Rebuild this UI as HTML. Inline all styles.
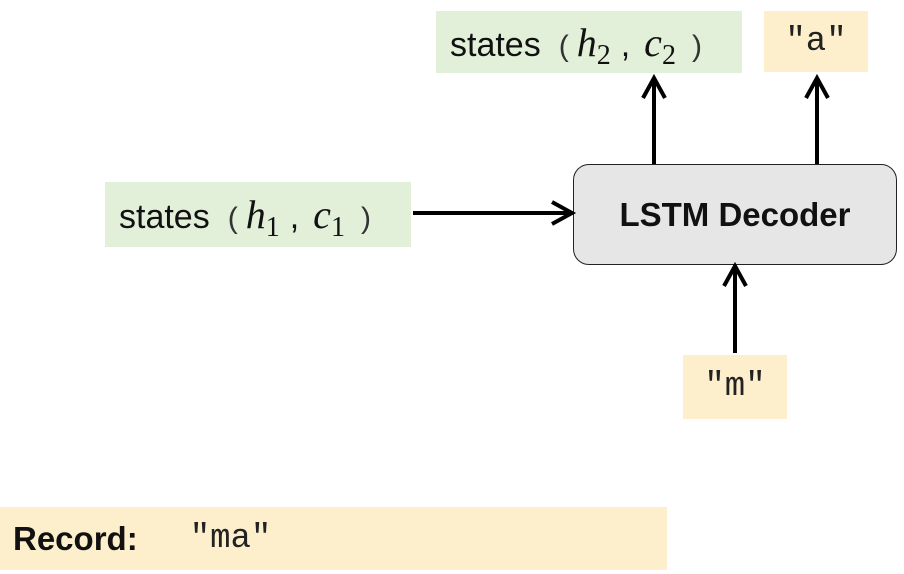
<!DOCTYPE html>
<html><head><meta charset="utf-8"><style>
html,body{margin:0;padding:0;background:#fff;width:904px;height:574px;overflow:hidden;position:relative;font-family:"Liberation Sans",sans-serif}
.b{position:absolute;display:flex;align-items:center;justify-content:center;white-space:nowrap;color:#111}
.g{background:#e2f0d9}
.y{background:#fdefcc}
.st{font-size:34px;justify-content:flex-start;padding-left:14px;box-sizing:border-box}
.m{font-family:"Liberation Serif",serif;font-style:italic;font-size:40px}
.sub{font-family:"Liberation Serif",serif;font-size:28px;position:relative;top:8px}
.p{font-size:30px;color:#333}
.mono{font-family:"Liberation Mono",monospace;font-size:34px;color:#222}
</style></head><body>
<div class="b g st" style="left:436px;top:11px;width:306px;height:62px"><span>states<span class="p" style="margin:0 8px 0 18px">(</span><span class="m">h</span><span class="sub">2</span><span style="margin:0 14px 0 10px">,</span><span class="m">c</span><span class="sub">2</span><span class="p" style="margin-left:16px">)</span></span></div>
<div class="b y mono" style="left:764px;top:11px;width:104px;height:61px"><span>"a"</span></div>
<div class="b g st" style="left:105px;top:182px;width:306px;height:65px"><span>states<span class="p" style="margin:0 8px 0 18px">(</span><span class="m">h</span><span class="sub">1</span><span style="margin:0 14px 0 10px">,</span><span class="m">c</span><span class="sub">1</span><span class="p" style="margin-left:16px">)</span></span></div>
<div class="b" style="left:573px;top:164px;width:322px;height:99px;background:#e6e6e6;border:1.5px solid #222;border-radius:16px;font-weight:bold;font-size:33px"><span>LSTM Decoder</span></div>
<div class="b y mono" style="left:683px;top:355px;width:104px;height:64px"><span>"m"</span></div>
<div class="b y" style="left:0;top:507px;width:667px;height:63px;justify-content:flex-start;padding-left:13px;box-sizing:border-box"><b style="font-size:33px">Record:</b><span class="mono" style="margin-left:52px">"ma"</span></div>
<svg width="904" height="574" style="position:absolute;left:0;top:0" fill="none" stroke="#000" stroke-width="4">
<line x1="654" y1="164" x2="654" y2="80"/><polyline points="643,98 654,78 665,98"/>
<line x1="817" y1="164" x2="817" y2="80"/><polyline points="806,98 817,78 828,98"/>
<line x1="413" y1="213" x2="570" y2="213"/><polyline points="552,202 572,213 552,224"/>
<line x1="735" y1="353" x2="735" y2="268"/><polyline points="724,286 735,266 746,286"/>
</svg>
</body></html>
